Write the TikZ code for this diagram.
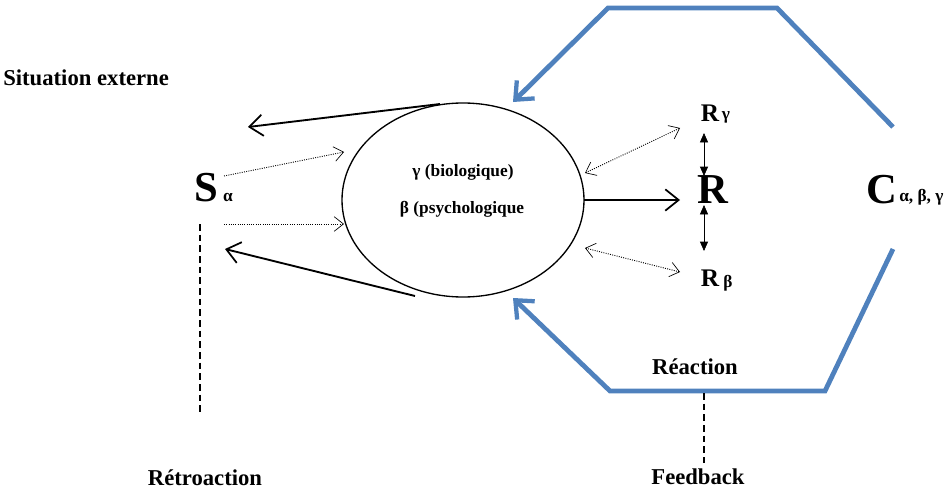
\documentclass[tikz,border=0pt]{standalone}
\usepackage{fontspec}
\setmainfont{Liberation Serif}
\usetikzlibrary{arrows.meta,shapes.geometric}
\definecolor{fbblue}{HTML}{4F81BD}
\begin{document}
\begin{tikzpicture}[x=0.75pt,y=-0.75pt,
  lbl/.style={font=\bfseries\fontsize{17}{19}\selectfont, inner sep=0pt},
  inlbl/.style={font=\bfseries\fontsize{13}{15}\selectfont, inner sep=0pt},
  big/.style={font=\bfseries\fontsize{32}{34}\selectfont, inner sep=0pt},
  mid/.style={font=\bfseries\fontsize{19}{21}\selectfont, inner sep=0pt},
  sub/.style={font=\bfseries\fontsize{13}{15}\selectfont, inner sep=0pt},
  solidarrow/.style={line width=1.4pt, -{Straight Barb[length=10pt,width=16pt,line width=1.3pt]}},
  dotarrow/.style={densely dotted, line width=0.7pt, -{Straight Barb[length=7pt,width=11pt,line width=0.5pt]}},
  dotdouble/.style={densely dotted, line width=0.7pt, {Straight Barb[length=7pt,width=11pt,line width=0.5pt]}-{Straight Barb[length=7pt,width=11pt,line width=0.5pt]}},
  tridouble/.style={line width=0.5pt, {Triangle[length=7pt,width=6pt]}-{Triangle[length=7pt,width=6pt]}},
  bluepath/.style={draw=fbblue, line width=3.6pt},
  bluearrow/.style={bluepath, -{Straight Barb[length=11pt,width=19pt,line width=3.2pt]}}]
\useasboundingbox (0,0) rectangle (947,489);

% central ellipse
\node[draw, ellipse, line width=1pt, minimum width=181.5pt, minimum height=145.5pt, inner sep=0pt] (E) at (463,200) {};
\node[inlbl] (bio) at (463,172) {γ (biologique)};
\node[inlbl] (psy) at (462,209) {β (psychologique};

% left side
\node[lbl, anchor=west] (sit) at (3,78) {Situation externe};
\node[big] (S) at (206,188) {S};
\node[sub] (Sa) at (228,197) {α};
\coordinate (d1s) at (224,176);
\coordinate (d1e) at (344,152);
\coordinate (d2s) at (224,224);
\coordinate (d2e) at (344,224);
\draw[dotarrow] (d1s) -- (d1e);
\draw[dotarrow] (d2s) -- (d2e);
\coordinate (a1s) at (440,104);
\coordinate (a1e) at (248,127);
\coordinate (a2s) at (415,296);
\coordinate (a2e) at (225,249);
\draw[solidarrow] (a1s) -- (a1e);
\draw[solidarrow] (a2s) -- (a2e);
\coordinate (rt1) at (200,224);
\coordinate (rt2) at (200,413);
\draw[dashed, line width=1pt, dash pattern=on 5pt off 3pt] (rt1) -- (rt2);
\node[lbl] (retro) at (205,478) {Rétroaction};

% right side
\node[big] (R) at (713,190) {R};
\node[mid] (Rg) at (710,113) {R};
\node[sub] (Rgs) at (726,117) {γ};
\node[mid] (Rb) at (710,278) {R};
\node[sub] (Rbs) at (728,283) {β};
\coordinate (Eout) at (584,200);
\coordinate (Rin) at (680,200);
\draw[solidarrow] (Eout) -- (Rin);
\coordinate (t1) at (704,133);
\coordinate (t2) at (704,176);
\coordinate (t3) at (704,205);
\coordinate (t4) at (704,251);
\draw[tridouble] (t1) -- (t2);
\draw[tridouble] (t3) -- (t4);
\coordinate (u1) at (585,173);
\coordinate (u2) at (680,128);
\coordinate (l1) at (585,248);
\coordinate (l2) at (680,272);
\draw[dotdouble] (u1) -- (u2);
\draw[dotdouble] (l1) -- (l2);

\node[big] (C) at (882,190) {C};
\node[sub, anchor=west] (Cs) at (899,197) {α, β, γ};

% blue feedback loop
\coordinate (b1) at (893,127);
\coordinate (b2) at (777,8);
\coordinate (b3) at (608,8);
\coordinate (b4) at (513,102);
\draw[bluearrow] (b1) -- (b2) -- (b3) -- (b4);
\coordinate (c1) at (893,249);
\coordinate (c2) at (825,391);
\coordinate (c3) at (610,391);
\coordinate (c4) at (513,298);
\draw[bluearrow] (c1) -- (c2) -- (c3) -- (c4);
\node[lbl] (reac) at (695,367) {Réaction};
\coordinate (f1) at (704,393);
\coordinate (f2) at (704,463);
\draw[dashed, line width=1pt, dash pattern=on 5pt off 3pt] (f1) -- (f2);
\node[lbl] (feed) at (698,477) {Feedback};
\end{tikzpicture}
\end{document}
